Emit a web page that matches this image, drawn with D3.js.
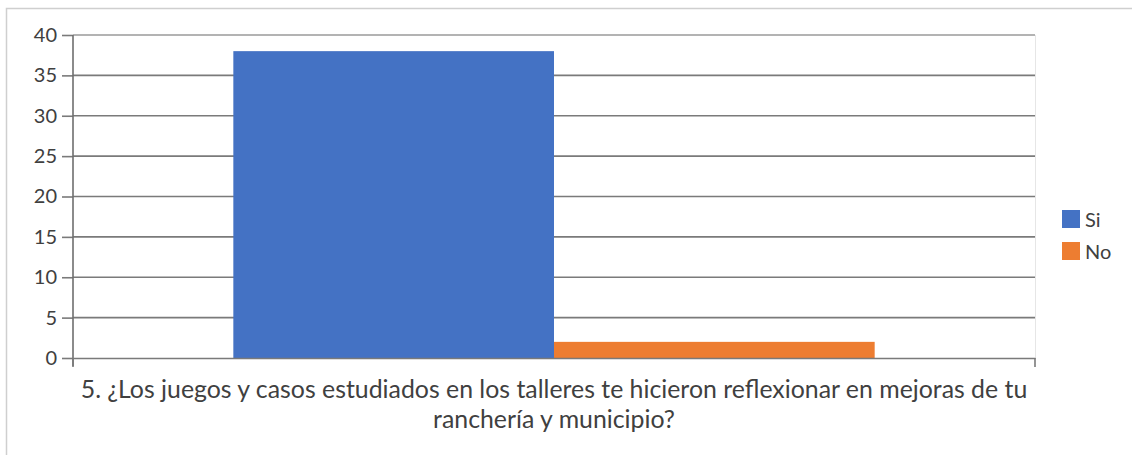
<!DOCTYPE html>
<html><head><meta charset="utf-8">
<script src="https://cdn.jsdelivr.net/npm/d3@7"></script>
<style>body{margin:0;background:#fff}svg{display:block}text{font-family:Lato,"Open Sans",sans-serif;fill:#404040}</style>
</head><body>
<svg id="c" width="1132" height="455"></svg>
<script>
const categories = ["5. ¿Los juegos y casos estudiados en los talleres te hicieron reflexionar en mejoras de tu|ranchería y municipio?"];
const seriesNames = ["Si", "No"];
const seriesValues = [[38], [2]];
const seriesColors = ["#4472c4", "#ed7d31"];
const yTicks = [0, 5, 10, 15, 20, 25, 30, 35, 40];

(function () {
const svg = d3.select("#c");
svg.append("path").attr("d", "M6.5,455 V8.5 H1132").attr("fill", "none").attr("stroke", "#cfcfcf").attr("stroke-width", 1.5);

const pL = 73, pR = 1035, pT = 35, pB = 358;
const y = d3.scaleLinear().domain([0, 40]).range([pB, pT]);
const x0 = d3.scaleBand().domain(categories).range([pL, pR]).paddingInner(0).paddingOuter(0);
const x1 = d3.scaleBand().domain(seriesNames).range([0, x0.bandwidth()]).paddingInner(0).paddingOuter(0.5);

svg.append("line").attr("x1", pR + 0.5).attr("x2", pR + 0.5).attr("y1", pT).attr("y2", pB).attr("stroke", "#e6e6e6");

svg.append("g").selectAll("line").data(yTicks.filter(d => d > 0)).join("line")
  .attr("x1", pL).attr("x2", pR)
  .attr("y1", d => y(d)).attr("y2", d => y(d))
  .attr("stroke", d => d === 40 ? "#9a9a9a" : "#7a7a7a").attr("stroke-width", 1.6);

categories.forEach((c, ci) => {
  seriesNames.forEach((s, si) => {
    svg.append("rect")
      .attr("x", x0(c) + x1(s)).attr("width", x1.bandwidth())
      .attr("y", y(seriesValues[si][ci])).attr("height", pB - y(seriesValues[si][ci]))
      .attr("fill", seriesColors[si]);
  });
});

const yAxis = d3.axisLeft(y).tickValues(yTicks).tickSize(11).tickPadding(5).tickSizeOuter(0);
const ga = svg.append("g").attr("transform", `translate(${pL},0)`).call(yAxis);
ga.select(".domain").remove();
ga.selectAll(".tick line").attr("stroke", "#7a7a7a").attr("stroke-width", 1.6);
ga.selectAll(".tick text").attr("font-size", 20).style("font-family", "Lato,'Open Sans',sans-serif").attr("fill", "#404040");
svg.append("line").attr("x1", pL).attr("x2", pL).attr("y1", pT).attr("y2", pB + 8).attr("stroke", "#6e6e6e").attr("stroke-width", 1.6);

const xAxis = d3.axisBottom(x0).tickSize(0).tickFormat("");
const gx = svg.append("g").attr("transform", `translate(0,${pB})`).call(xAxis);
gx.select(".domain").attr("stroke", "#7a7a7a").attr("stroke-width", 1.6);
[pL, pR].forEach(px => svg.append("line").attr("x1", px).attr("x2", px).attr("y1", pB).attr("y2", pB + 9).attr("stroke", "#7a7a7a").attr("stroke-width", 1.6));

categories.forEach(c => {
  const lines = c.split("|");
  const cx = x0(c) + x0.bandwidth() / 2;
  let fs = 18;
  lines.forEach((ln, i) => {
    const t = svg.append("text").attr("x", cx).attr("y", 398 + i * 30).attr("text-anchor", "middle").attr("font-size", fs).text(ln);
    if (i === 0) {
      const w = t.node().getComputedTextLength();
      fs = 18 * 947 / w;
      t.attr("font-size", fs);
    }
  });
});

const lg = svg.append("g");
seriesNames.forEach((s, i) => {
  lg.append("rect").attr("x", 1062).attr("y", 210 + i * 32).attr("width", 18).attr("height", 18).attr("fill", seriesColors[i]);
  lg.append("text").attr("x", 1085).attr("y", 227 + i * 32).attr("font-size", 20).text(s);
});
})();
</script>
</body></html>
